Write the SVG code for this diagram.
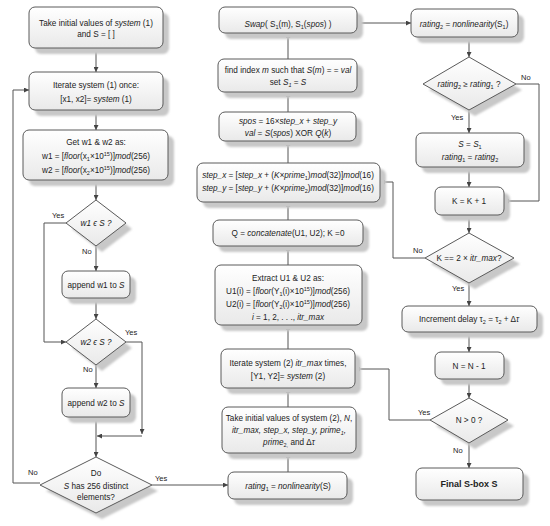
<svg xmlns="http://www.w3.org/2000/svg" width="550" height="526" viewBox="0 0 550 526">
<defs>
<linearGradient id="g" x1="0" y1="0" x2="0" y2="1">
<stop offset="0" stop-color="#ffffff"/>
<stop offset="1" stop-color="#e9e9e9"/>
</linearGradient>
<filter id="blur" x="-10%" y="-10%" width="130%" height="130%"><feGaussianBlur stdDeviation="1.2"/></filter>
<marker id="ah" viewBox="0 0 10 10" refX="10" refY="5" markerWidth="5" markerHeight="5" orient="auto" markerUnits="userSpaceOnUse">
<path d="M0,0 L10,5 L0,10 z" fill="#444"/>
</marker>
<style>
.box{fill:url(#g);stroke:#5a5a5a;stroke-width:1}
.sh{fill:#c8c8c8;filter:url(#blur)}
.t{font-family:"Liberation Sans",Arial,sans-serif;font-size:8.2px;fill:#222;text-anchor:middle}
.i{font-style:italic}
.s{font-size:5.5px}
.b{font-weight:bold;font-size:9px}
.lbl{font-family:"Liberation Sans",Arial,sans-serif;font-size:7.5px;fill:#222}
.c{fill:none;stroke:#555;stroke-width:1}
.a{marker-end:url(#ah)}
</style>
</defs>
<rect width="550" height="526" fill="#ffffff"/>

<g id="connectors">
<path class="c a" d="M96,48 V72"/>
<path class="c a" d="M96,110 V130"/>
<path class="c a" d="M96,180 V200"/>
<path class="c a" d="M96,246 V271"/>
<path class="c a" d="M96,298 V319"/>
<path class="c a" d="M66,223 H44 V342 H66"/>
<path class="c a" d="M96,365 V388"/>
<path class="c a" d="M126,342 H142 V434"/>
<path class="c a" d="M142,436 H97"/>
<path class="c a" d="M96,417 V457"/>
<path class="c a" d="M40,483 H13 V90 H29"/>
<path class="c a" d="M152,485 H228"/>
<path class="c a" d="M288,472 V453"/>
<path class="c a" d="M288,407 V388"/>
<path class="c a" d="M288,349 V325"/>
<path class="c a" d="M288,265 V246"/>
<path class="c a" d="M288,220 V202"/>
<path class="c a" d="M288,163 V141"/>
<path class="c a" d="M288,112 V92"/>
<path class="c a" d="M288,59 V33"/>
<path class="c a" d="M357,23 H411"/>
<path class="c a" d="M469,37 V57"/>
<path class="c a" d="M469,110 V133"/>
<path class="c a" d="M516,84 H539 V201 H504"/>
<path class="c a" d="M469,167 V187"/>
<path class="c a" d="M469,215 V233"/>
<path class="c a" d="M425,258 H393 V182 H380"/>
<path class="c a" d="M469,283 V306"/>
<path class="c a" d="M469,332 V352"/>
<path class="c a" d="M469,379 V398"/>
<path class="c a" d="M430,420 H389 V369 H355"/>
<path class="c a" d="M469,443 V468"/>
</g>

<g id="labels">
<text class="lbl" x="52" y="218">Yes</text>
<text class="lbl" x="82" y="254">No</text>
<text class="lbl" x="125" y="335">Yes</text>
<text class="lbl" x="83" y="372">No</text>
<text class="lbl" x="28" y="475">No</text>
<text class="lbl" x="155" y="481">Yes</text>
<text class="lbl" x="521" y="80">No</text>
<text class="lbl" x="451" y="120">Yes</text>
<text class="lbl" x="413" y="253">No</text>
<text class="lbl" x="452" y="291">Yes</text>
<text class="lbl" x="418" y="415">Yes</text>
<text class="lbl" x="453" y="453">No</text>
</g>

<g id="n1">
<rect class="sh" x="35" y="13" width="134" height="41" rx="6"/>
<rect class="box" x="29" y="7" width="134" height="41" rx="6"/>
<text class="t" x="96" y="26">Take initial values of <tspan class="i">system</tspan> (1)</text>
<text class="t" x="96" y="37">and S = [ ]</text>
</g>

<g id="n2">
<rect class="sh" x="35" y="78" width="134" height="38" rx="6"/>
<rect class="box" x="29" y="72" width="134" height="38" rx="6"/>
<text class="t" x="96" y="88">Iterate system (1) once:</text>
<text class="t" x="96" y="102">[x1, x2]= <tspan class="i">system</tspan> (1)</text>
</g>

<g id="n3">
<rect class="sh" x="29" y="136" width="145" height="50" rx="6"/>
<rect class="box" x="23" y="130" width="145" height="50" rx="6"/>
<text class="t" x="96" y="145">Get w1 &amp; w2 as:</text>
<text class="t" x="96" y="159">w1 = [<tspan class="i">floor</tspan>(x<tspan class="s" dy="2">1</tspan><tspan dy="-2">×10</tspan><tspan class="s" dy="-3">15</tspan><tspan dy="3">)]</tspan><tspan class="i">mod</tspan>(256)</text>
<text class="t" x="96" y="173">w2 = [<tspan class="i">floor</tspan>(x<tspan class="s" dy="2">2</tspan><tspan dy="-2">×10</tspan><tspan class="s" dy="-3">15</tspan><tspan dy="3">)]</tspan><tspan class="i">mod</tspan>(256)</text>
</g>

<g id="d1">
<polygon class="sh" points="102,206 132,229 102,252 72,229"/>
<polygon class="box" points="96,200 126,223 96,246 66,223" stroke-linejoin="round"/>
<text class="t i" x="96" y="226">w1 ϵ S ?</text>
</g>

<g id="n4">
<rect class="sh" x="68" y="277" width="68" height="27" rx="6"/>
<rect class="box" x="62" y="271" width="68" height="27" rx="6"/>
<text class="t" x="96" y="288">append w1 to <tspan class="i">S</tspan></text>
</g>

<g id="d2">
<polygon class="sh" points="102,325 132,348 102,371 72,348"/>
<polygon class="box" points="96,319 126,342 96,365 66,342" stroke-linejoin="round"/>
<text class="t i" x="96" y="345">w2 ϵ S ?</text>
</g>

<g id="n5">
<rect class="sh" x="68" y="394" width="68" height="29" rx="6"/>
<rect class="box" x="62" y="388" width="68" height="29" rx="6"/>
<text class="t" x="96" y="406">append w2 to <tspan class="i">S</tspan></text>
</g>

<g id="d3">
<polygon class="sh" points="102,463 158,491 102,519 46,491"/>
<polygon class="box" points="96,457 152,485 96,513 40,485" stroke-linejoin="round"/>
<text class="t" x="96" y="476">Do</text>
<text class="t" x="96" y="489"><tspan class="i">S</tspan> has 256 distinct</text>
<text class="t" x="96" y="500">elements?</text>
</g>

<g id="m1">
<rect class="sh" x="234" y="478" width="119" height="27" rx="6"/>
<rect class="box" x="228" y="472" width="119" height="27" rx="6"/>
<text class="t" x="288" y="489"><tspan class="i">rating</tspan><tspan class="s" dy="2">1</tspan><tspan dy="-2"> = </tspan><tspan class="i">nonlinearity</tspan>(S)</text>
</g>

<g id="m2">
<rect class="sh" x="228" y="413" width="134" height="46" rx="6"/>
<rect class="box" x="222" y="407" width="134" height="46" rx="6"/>
<text class="t" x="289" y="421">Take initial values of system (2), <tspan class="i">N</tspan>,</text>
<text class="t i" x="289" y="433">itr_max, step_x, step_y, prime<tspan class="s" dy="2">1</tspan><tspan dy="-2">,</tspan></text>
<text class="t" x="289" y="445"><tspan class="i">prime</tspan><tspan class="s" dy="2">2,</tspan><tspan dy="-2"> and Δ</tspan><tspan class="i">τ</tspan></text>
</g>

<g id="m3">
<rect class="sh" x="227" y="355" width="134" height="39" rx="6"/>
<rect class="box" x="221" y="349" width="134" height="39" rx="6"/>
<text class="t" x="288" y="366">Iterate system (2) <tspan class="i">itr_max</tspan> times,</text>
<text class="t" x="288" y="379">[Y1, Y2]= <tspan class="i">system</tspan> (2)</text>
</g>

<g id="m4">
<rect class="sh" x="221" y="271" width="147" height="60" rx="6"/>
<rect class="box" x="215" y="265" width="147" height="60" rx="6"/>
<text class="t" x="288" y="281">Extract U1 &amp; U2 as:</text>
<text class="t" x="288" y="294">U1(i) = [<tspan class="i">floor</tspan>(Y<tspan class="s" dy="2">1</tspan><tspan dy="-2">(i)×10</tspan><tspan class="s" dy="-3">15</tspan><tspan dy="3">)]</tspan><tspan class="i">mod</tspan>(256)</text>
<text class="t" x="288" y="307">U2(i) = [<tspan class="i">floor</tspan>(Y<tspan class="s" dy="2">2</tspan><tspan dy="-2">(i)×10</tspan><tspan class="s" dy="-3">15</tspan><tspan dy="3">)]</tspan><tspan class="i">mod</tspan>(256)</text>
<text class="t" x="288" y="320"><tspan class="i">i</tspan> = 1, 2, . . ., <tspan class="i">itr_max</tspan></text>
</g>

<g id="m5">
<rect class="sh" x="219" y="226" width="150" height="26" rx="6"/>
<rect class="box" x="213" y="220" width="150" height="26" rx="6"/>
<text class="t" x="288" y="236">Q = <tspan class="i">concatenate</tspan>(U1, U2); K =0</text>
</g>

<g id="m6">
<rect class="sh" x="203" y="169" width="183" height="39" rx="6"/>
<rect class="box" x="197" y="163" width="183" height="39" rx="6"/>
<text class="t" x="288" y="178"><tspan class="i">step_x</tspan> = [<tspan class="i">step_x</tspan> + (<tspan class="i">K×prime</tspan><tspan class="s" dy="2">1</tspan><tspan dy="-2">)</tspan><tspan class="i">mod</tspan>(32)]<tspan class="i">mod</tspan>(16)</text>
<text class="t" x="288" y="191"><tspan class="i">step_y</tspan> = [<tspan class="i">step_y</tspan> + (<tspan class="i">K×prime</tspan><tspan class="s" dy="2">2</tspan><tspan dy="-2">)</tspan><tspan class="i">mod</tspan>(32)]<tspan class="i">mod</tspan>(16)</text>
</g>

<g id="m7">
<rect class="sh" x="225" y="118" width="137" height="29" rx="6"/>
<rect class="box" x="219" y="112" width="137" height="29" rx="6"/>
<text class="t" x="288" y="124"><tspan class="i">spos</tspan> = 16×<tspan class="i">step_x</tspan> + <tspan class="i">step_y</tspan></text>
<text class="t" x="288" y="136"><tspan class="i">val</tspan> = <tspan class="i">S</tspan>(<tspan class="i">spos</tspan>) XOR <tspan class="i">Q</tspan>(<tspan class="i">k</tspan>)</text>
</g>

<g id="m8">
<rect class="sh" x="224" y="65" width="139" height="33" rx="6"/>
<rect class="box" x="218" y="59" width="139" height="33" rx="6"/>
<text class="t" x="288" y="73">find index <tspan class="i">m</tspan> such that <tspan class="i">S</tspan>(<tspan class="i">m</tspan>) = = <tspan class="i">val</tspan></text>
<text class="t" x="288" y="85">set <tspan class="i">S</tspan><tspan class="s i" dy="2">1</tspan><tspan dy="-2"> = </tspan><tspan class="i">S</tspan></text>
</g>

<g id="m9">
<rect class="sh" x="225" y="13" width="138" height="26" rx="6"/>
<rect class="box" x="219" y="7" width="138" height="26" rx="6"/>
<text class="t" x="288" y="27"><tspan class="i">Swap</tspan>( S<tspan class="s" dy="2">1</tspan><tspan dy="-2">(m), S</tspan><tspan class="s" dy="2">1</tspan><tspan dy="-2">(</tspan><tspan class="i">spos</tspan>) )</text>
</g>

<g id="r1">
<rect class="sh" x="417" y="15" width="107" height="28" rx="6"/>
<rect class="box" x="411" y="9" width="107" height="28" rx="6"/>
<text class="t" x="464" y="27"><tspan class="i">rating</tspan><tspan class="s" dy="2">2</tspan><tspan dy="-2"> = </tspan><tspan class="i">nonlinearity</tspan>(S<tspan class="s" dy="2">1</tspan><tspan dy="-2">)</tspan></text>
</g>

<g id="r2">
<polygon class="sh" points="475,63 522,90 475,116 429,90"/>
<polygon class="box" points="469,57 516,84 469,110 423,84" stroke-linejoin="round"/>
<text class="t" x="469" y="87"><tspan class="i">rating</tspan><tspan class="s" dy="2">2</tspan><tspan dy="-2"> ≥ </tspan><tspan class="i">rating</tspan><tspan class="s" dy="2">1</tspan><tspan dy="-2"> ?</tspan></text>
</g>

<g id="r3">
<rect class="sh" x="422" y="139" width="108" height="34" rx="6"/>
<rect class="box" x="416" y="133" width="108" height="34" rx="6"/>
<text class="t" x="470" y="147"><tspan class="i">S</tspan> = <tspan class="i">S</tspan><tspan class="s" dy="2">1</tspan></text>
<text class="t" x="470" y="160"><tspan class="i">rating</tspan><tspan class="s" dy="2">1</tspan><tspan dy="-2"> = </tspan><tspan class="i">rating</tspan><tspan class="s" dy="2">2</tspan></text>
</g>

<g id="r4">
<rect class="sh" x="441" y="193" width="69" height="28" rx="6"/>
<rect class="box" x="435" y="187" width="69" height="28" rx="6"/>
<text class="t" x="469" y="204">K = K + 1</text>
</g>

<g id="r5">
<polygon class="sh" points="475,239 520,264 475,289 431,264"/>
<polygon class="box" points="469,233 514,258 469,283 425,258" stroke-linejoin="round"/>
<text class="t" x="469" y="261">K == 2 × <tspan class="i">itr_max</tspan>?</text>
</g>

<g id="r6">
<rect class="sh" x="408" y="312" width="135" height="26" rx="6"/>
<rect class="box" x="402" y="306" width="135" height="26" rx="6"/>
<text class="t" x="469" y="322">Increment delay τ<tspan class="s" dy="2">2</tspan><tspan dy="-2"> = τ</tspan><tspan class="s" dy="2">2</tspan><tspan dy="-2"> + Δ</tspan><tspan class="i">τ</tspan></text>
</g>

<g id="r7">
<rect class="sh" x="441" y="358" width="69" height="27" rx="6"/>
<rect class="box" x="435" y="352" width="69" height="27" rx="6"/>
<text class="t" x="469" y="369">N = N - 1</text>
</g>

<g id="r8">
<polygon class="sh" points="475,404 514,426 475,449 436,426"/>
<polygon class="box" points="469,398 508,420 469,443 430,420" stroke-linejoin="round"/>
<text class="t" x="469" y="423">N &gt; 0 ?</text>
</g>

<g id="r9">
<rect class="sh" x="422" y="474" width="107" height="32" rx="6"/>
<rect class="box" x="416" y="468" width="107" height="32" rx="6"/>
<text class="t b" x="469" y="487">Final S-box S</text>
</g>
</svg>
